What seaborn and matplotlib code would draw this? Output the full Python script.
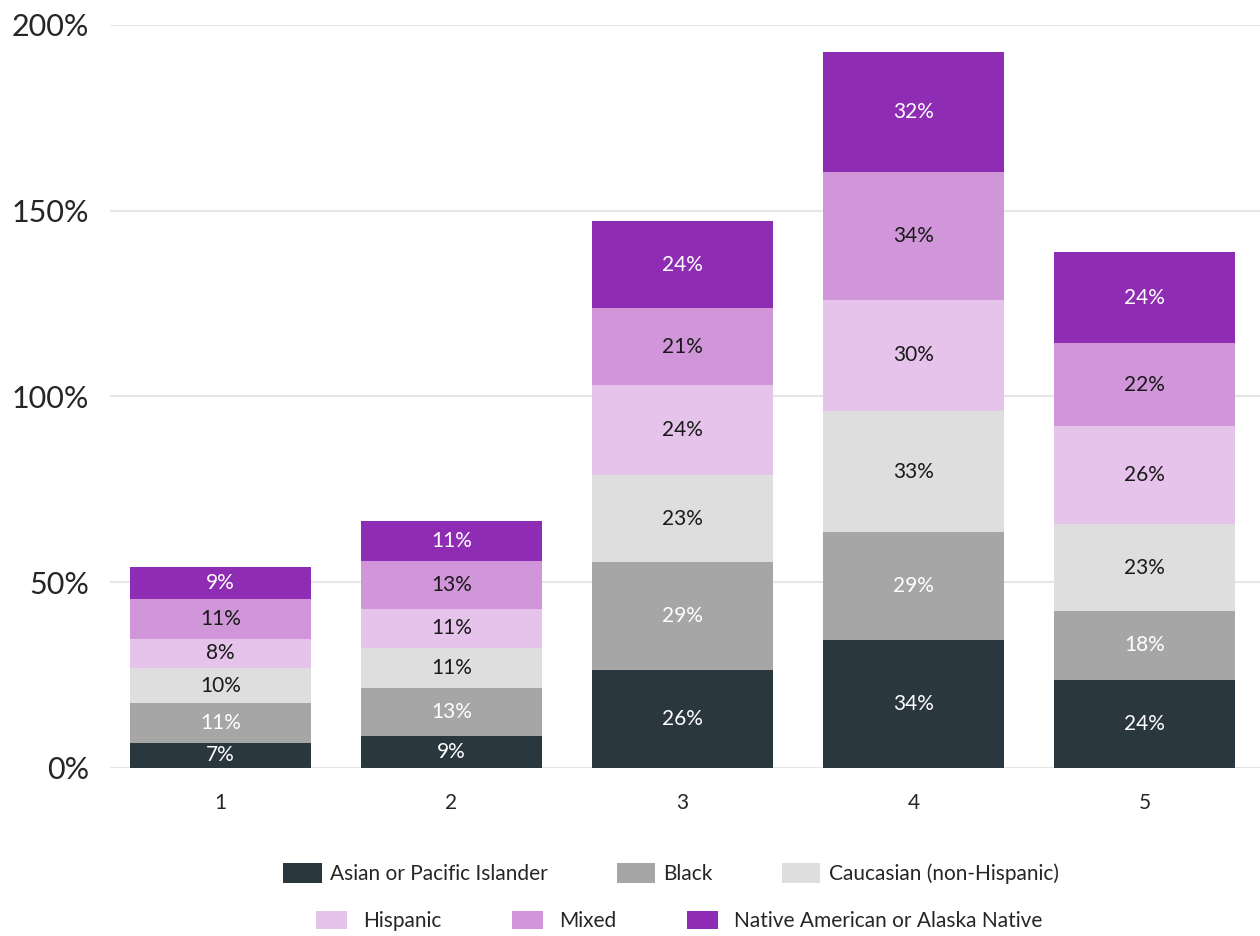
import numpy as np
import pandas as pd
import matplotlib
matplotlib.use("Agg")
import matplotlib.pyplot as plt
import seaborn as sns
from matplotlib.patches import Patch

# Stacked shares per group
groups = ["1", "2", "3", "4", "5"]
series = ["Asian or Pacific Islander", "Black", "Caucasian (non-Hispanic)",
          "Hispanic", "Mixed", "Native American or Alaska Native"]
asian = [6.8, 8.6, 26.4, 34.4, 23.8]
black = [10.6, 12.9, 29.0, 29.0, 18.4]
caucasian = [9.6, 10.8, 23.4, 32.6, 23.4]
hispanic = [7.8, 10.6, 24.3, 30.1, 26.4]
mixed = [10.6, 12.9, 20.6, 34.4, 22.4]
native = [8.7, 10.6, 23.6, 32.1, 24.4]

colors = ["#2b373e", "#a6a6a6", "#dedede", "#e6c3ea", "#d195da", "#8e2db3"]
text_colors = ["white", "white", "#1a1a1a", "#1a1a1a", "#1a1a1a", "white"]

sns.set_theme(style="white")
plt.rcParams["font.family"] = ["Lato", "DejaVu Sans"]

fig = plt.figure(figsize=(12.6, 9.36), dpi=100)
ax = fig.add_axes([0.087, 0.1795, 0.913, 0.7938])

values = [asian, black, caucasian, hispanic, mixed, native]
bottom = np.zeros(len(groups))
for name, vals, col, tcol in zip(series, values, colors, text_colors):
    df = pd.DataFrame({"group": groups, "value": vals})
    sns.barplot(data=df, x="group", y="value", bottom=bottom, color=col,
                width=0.78, linewidth=0, saturation=1, ax=ax, errorbar=None)
    cont = ax.containers[-1]
    ax.bar_label(cont, labels=[f"{round(v)}%" for v in vals], label_type="center",
                 color=tcol, fontsize=15)
    bottom = bottom + np.array(vals)

ax.set_ylim(0, 200)
ax.set_xlim(-0.48, 4.5)
ax.set_yticks([0, 50, 100, 150, 200])
ax.set_yticklabels(["0%", "50%", "100%", "150%", "200%"], fontsize=22)
ax.tick_params(axis="y", length=0, pad=15)
ax.tick_params(axis="x", length=0, pad=18, labelsize=15)
ax.set_xlabel("")
ax.set_ylabel("")
ax.yaxis.grid(True, color="#e6e6e6", linewidth=1.5)
ax.set_axisbelow(True)
sns.despine(ax=ax, left=True, bottom=True)

handles = [Patch(facecolor=c, edgecolor="none", label=s) for s, c in zip(series, colors)]
leg1 = fig.legend(handles=handles[:3], loc="center", bbox_to_anchor=(0.5325, 0.067),
                  ncol=3, frameon=False, fontsize=15, handlelength=1.85,
                  handleheight=1.1, handletextpad=0.4, columnspacing=3.3)
leg2 = fig.legend(handles=handles[3:], loc="center", bbox_to_anchor=(0.539, 0.016),
                  ncol=3, frameon=False, fontsize=15, handlelength=1.5,
                  handleheight=1.0, handletextpad=0.75, columnspacing=3.4)

fig.savefig("out.png", dpi=100)
